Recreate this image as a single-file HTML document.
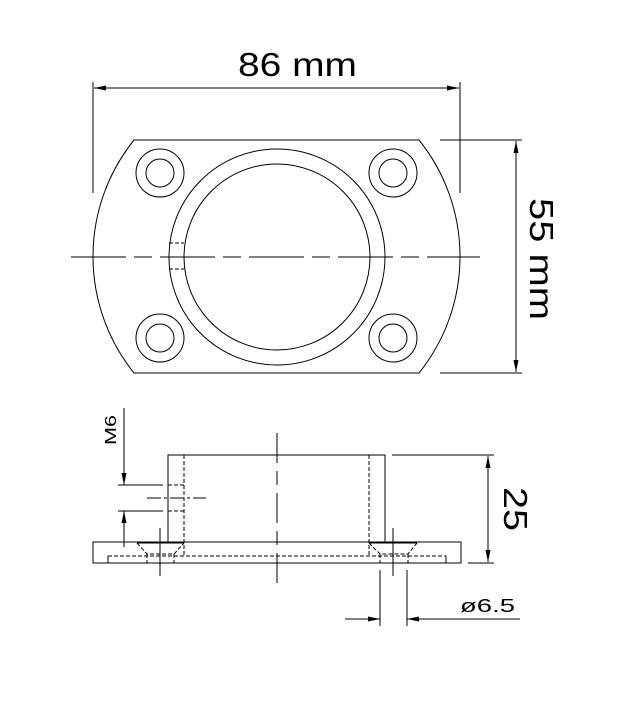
<!DOCTYPE html>
<html><head><style>body{margin:0;background:#fff}</style></head><body>
<svg width="619" height="705" viewBox="0 0 619 705" xmlns="http://www.w3.org/2000/svg" font-family="Liberation Sans, sans-serif">
<defs>
<marker id="a" viewBox="0 0 12 5" refX="12" refY="2.5" markerWidth="12" markerHeight="5" orient="auto-start-reverse" markerUnits="userSpaceOnUse"><path d="M0,0L12,2.5L0,5z" fill="#000"/></marker>
</defs>
<g fill="none" stroke="#000" stroke-width="1">
<path d="M134,140 L419,140 A186,186 0 0 1 419,373 L134,373 A186,186 0 0 1 134,140 Z"/>
<circle cx="277" cy="257" r="108"/>
<circle cx="277" cy="257" r="93"/>
<circle cx="160" cy="173" r="24"/><circle cx="160" cy="173" r="14"/>
<circle cx="393" cy="173" r="24"/><circle cx="393" cy="173" r="14"/>
<circle cx="160" cy="338" r="24"/><circle cx="160" cy="338" r="14"/>
<circle cx="393" cy="338" r="24"/><circle cx="393" cy="338" r="14"/>
<path d="M169,243H184M169,269H184" stroke-dasharray="4,2"/>
<line x1="71" y1="257" x2="480" y2="257" stroke-dasharray="55,8,18,8"/>
<line x1="93" y1="82" x2="93" y2="193"/>
<line x1="460" y1="82" x2="460" y2="193"/>
<line x1="94" y1="88" x2="459" y2="88" marker-start="url(#a)" marker-end="url(#a)"/>
<line x1="440" y1="140" x2="522" y2="140"/>
<line x1="440" y1="373" x2="522" y2="373"/>
<line x1="516" y1="141" x2="516" y2="372" marker-start="url(#a)" marker-end="url(#a)"/>
<path d="M168,542V455H385V542"/>
<rect x="93" y="542" width="368" height="21"/>
<path d="M108,563V556M446,563V556"/>
<line x1="108" y1="556" x2="446" y2="556" stroke-dasharray="4,2"/>
<path d="M184,455V556M369,455V556" stroke-dasharray="4,2"/>
<path d="M137,543L147,554H174L184,543M147,554V563M174,554V563" stroke-dasharray="4,2"/>
<path d="M369,543L380,554H408L417,543M380,554V563M408,554V563" stroke-dasharray="4,2"/>
<path d="M137,543H184M369,543H417"/>
<line x1="160" y1="528" x2="160" y2="576"/>
<line x1="393" y1="528" x2="393" y2="576"/>
<line x1="277" y1="433" x2="277" y2="585" stroke-dasharray="30,8,14,8"/>
<path d="M168,485H184M168,511H184" stroke-dasharray="4,2"/>
<line x1="147" y1="498" x2="206" y2="498" stroke-dasharray="14,3,3,3"/>
<line x1="118" y1="485" x2="163" y2="485"/>
<line x1="118" y1="511" x2="163" y2="511"/>
<line x1="124" y1="408" x2="124" y2="485" marker-end="url(#a)"/>
<line x1="124" y1="547" x2="124" y2="511" marker-end="url(#a)"/>
<line x1="392" y1="455" x2="494" y2="455"/>
<line x1="468" y1="563" x2="494" y2="563"/>
<line x1="488" y1="456" x2="488" y2="562" marker-start="url(#a)" marker-end="url(#a)"/>
<line x1="380" y1="570" x2="380" y2="626"/>
<line x1="407" y1="570" x2="407" y2="626"/>
<line x1="345" y1="619" x2="380" y2="619" marker-end="url(#a)"/>
<line x1="520" y1="619" x2="407" y2="619" marker-end="url(#a)"/>
</g>
<g fill="#000">
<text x="238" y="76" font-size="33" textLength="119" lengthAdjust="spacingAndGlyphs">86 mm</text>
<text transform="translate(530,198) rotate(90)" font-size="33" textLength="122" lengthAdjust="spacingAndGlyphs">55 mm</text>
<text transform="translate(504,487) rotate(90)" font-size="33" textLength="44" lengthAdjust="spacingAndGlyphs">25</text>
<text transform="translate(116,445) rotate(-90)" font-size="16" textLength="30" lengthAdjust="spacingAndGlyphs">M6</text>
<text x="460" y="612" font-size="18" textLength="55" lengthAdjust="spacingAndGlyphs">ø6.5</text>
</g>
</svg>
</body></html>
